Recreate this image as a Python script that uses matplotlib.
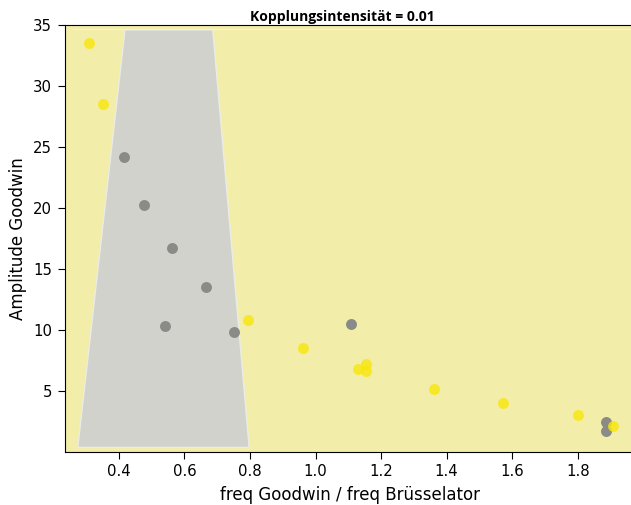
import matplotlib
matplotlib.use("Agg")
import matplotlib.pyplot as plt
import numpy as np

# Data points (class 0 = gray, class 1 = yellow)
gray_x = [0.415, 0.478, 0.562, 0.666, 0.541, 0.750, 1.108, 1.886, 1.886]
gray_y = [24.2, 20.27, 16.72, 13.58, 10.33, 9.85, 10.55, 2.49, 1.72]
yellow_x = [0.310, 0.352, 0.793, 0.961, 1.131, 1.153, 1.153, 1.361, 1.573, 1.801, 1.909]
yellow_y = [33.5, 28.52, 10.87, 8.58, 6.86, 7.27, 6.64, 5.19, 4.02, 3.03, 2.13]

# Decision region boundary (gray region) along y
region_y = [0.44, 34.65]
region_left = [0.273, 0.417]
region_right = [0.796, 0.685]

title = "Kopplungsintensität = 0.01"
xlabel = "freq Goodwin / freq Brüsselator"
ylabel = "Amplitude Goodwin"
xticks = [0.4, 0.6, 0.8, 1.0, 1.2, 1.4, 1.6, 1.8]
yticks = [5, 10, 15, 20, 25, 30, 35]

W, H = 631, 505
fig = plt.figure(figsize=(W / 100, H / 100), dpi=100)
ax = fig.add_axes([64.5 / W, (H - 451.7) / H, (636 - 64.5) / W, (451.7 - 25) / H])

ax.set_facecolor("#f2eda8")
ax.fill_betweenx(region_y, region_left, region_right, color="#d2d2cd",
                 edgecolor="#ecece6", linewidth=1.0, zorder=1)
ax.plot([0.26, 1.97], [region_y[1], region_y[1]], color="#f6f3cf", lw=0.8, zorder=1)

ax.scatter(gray_x, gray_y, s=62, color="#8a8a86", zorder=3, linewidths=0)
ax.scatter(yellow_x, yellow_y, s=62, color="#f8e60a", alpha=0.8, zorder=4, linewidths=0)

ax.set_xlim(0.234, 1.978)
ax.set_ylim(0.05, 35)
ax.set_xticks(xticks)
ax.set_yticks(yticks)
ax.tick_params(labelsize=10.7, length=5, pad=4)
ax.set_xlabel(xlabel, fontsize=12, labelpad=5)
ax.set_ylabel(ylabel, fontsize=12, labelpad=4.5)

fig.text(342 / W, 1 - 21 / H, title, ha="center", va="baseline",
         fontsize=10, fontweight="bold", family=["Open Sans", "DejaVu Sans"])

fig.savefig("out.png", dpi=100)
